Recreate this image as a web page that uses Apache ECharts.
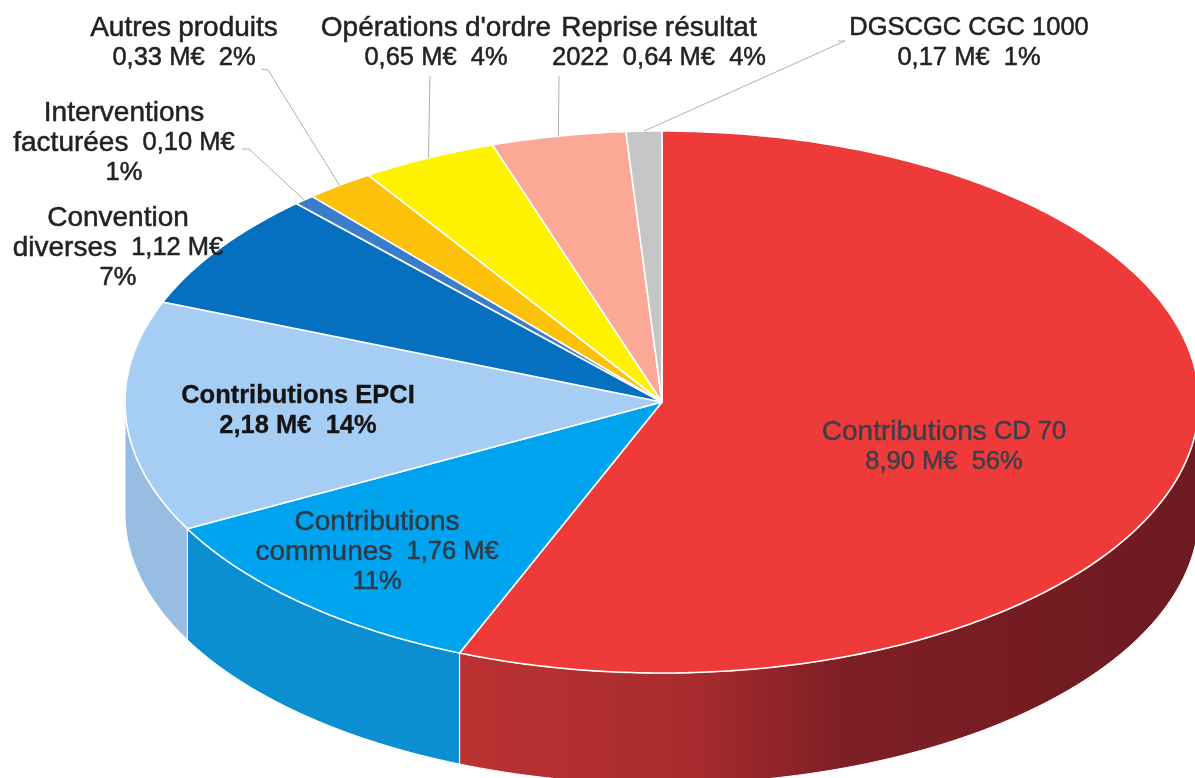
<!DOCTYPE html>
<html lang="fr">
<head>
<meta charset="utf-8">
<title>Recettes de fonctionnement</title>
<style>
  html, body { margin: 0; padding: 0; background: #fff; }
  #chart { width: 1195px; height: 778px; }
</style>
<script src="https://cdn.jsdelivr.net/npm/echarts@6/dist/echarts.min.js"></script>
</head>
<body>
<div id="chart"></div>
<script>
// Revenue shares, clockwise from twelve o'clock (millions of euros).
const categories = [
  'Contributions CD 70', 'Contributions communes', 'Contributions EPCI',
  'Convention diverses', 'Interventions facturées', 'Autres produits',
  "Opérations d'ordre", 'Reprise résultat 2022', 'DGSCGC CGC 1000'
];
const values = [8.90, 1.76, 2.18, 1.12, 0.10, 0.33, 0.65, 0.64, 0.17];
const labelTexts = [
  'Contributions CD 70\n8,90 M€  56%',
  'Contributions\ncommunes  1,76 M€\n11%',
  'Contributions EPCI\n2,18 M€  14%',
  'Convention\ndiverses  1,12 M€\n7%',
  'Interventions\nfacturées  0,10 M€\n1%',
  'Autres produits\n0,33 M€  2%',
  "Opérations d'ordre\n0,65 M€  4%",
  'Reprise résultat\n2022  0,64 M€  4%',
  'DGSCGC CGC 1000\n0,17 M€  1%'
];

// Styling and placement per slice, in the same order as the data.
const topColors = ['#ee3a38', '#00a3ee', '#a6cdf4', '#0570c0', '#3b7dcb', '#fdc10a', '#fff200', '#fba897', '#c6c6c6'];
const wallStops = [
  [[0, '#bb3232'], [0.32, '#a82b2e'], [0.52, '#7d1f25'], [1, '#6c1a20']],
  [[0, '#0b8fd0'], [1, '#0b8fd0']],
  [[0, '#98bde2'], [1, '#98bde2']]
];
const labelStyle = [
  { x: 944, y: 447, fill: '#3c3f4a' },
  { x: 377, y: 552, fill: '#2e3a46' },
  { x: 298, y: 411, fill: '#141414', bold: true },
  { x: 118, y: 248, fill: '#222222' },
  { x: 124, y: 143, fill: '#222222' },
  { x: 184, y: 43, fill: '#222222' },
  { x: 436, y: 43, fill: '#222222' },
  { x: 659, y: 43, fill: '#222222' },
  { x: 969, y: 43, fill: '#222222' }
];
// Where each leader line leaves its label; it runs on to the slice's rim midpoint.
const leaderStarts = [
  null, null, null, null,
  [[242, 149], [249, 149]],
  [[261, 69], [268, 70]],
  [[430, 76]],
  [[559, 76]],
  [[838, 41], [845, 41]]
];

// Projected disc geometry of the tilted pie.
const CX = 662, CY = 402, RX = 537, RY = 271, DEPTH = 111;
const total = values.reduce((a, b) => a + b, 0);
const FRONT_START = Math.PI / 2, FRONT_END = Math.PI * 3 / 2;

const rim = (angle, drop) => [
  CX + RX * Math.sin(angle),
  CY - RY * Math.cos(angle) + (drop || 0)
];
const arc = (from, to, drop) => {
  const steps = Math.max(2, Math.ceil((to - from) / 0.01));
  const pts = [];
  for (let i = 0; i <= steps; i++) pts.push(rim(from + (to - from) * i / steps, drop));
  return pts;
};
// Start and end angle of slice i, read from the cumulative values.
const sliceAngles = i => {
  let before = 0;
  for (let k = 0; k < i; k++) before += values[k];
  return [before / total * 2 * Math.PI, (before + values[i]) / total * 2 * Math.PI];
};

// Lowercase words are set a little larger than figures and capitals.
const toRich = text => text.split('\n').map(line =>
  line.split(/( +)/).map(word => {
    if (word === '') return '';
    const isWord = /[a-zé]{2}/.test(word);
    return '{' + (isWord ? 'w' : 'n') + '|' + word + '}';
  }).join('')
).join('\n');

const seriesData = values.map((v, i) => ({ name: categories[i], value: [v, i] }));

function renderWall(params, api) {
  const i = api.value(1);
  const [a0, a1] = sliceAngles(i);
  const from = Math.max(a0, FRONT_START), to = Math.min(a1, FRONT_END);
  if (to <= from) return { type: 'group', children: [] };
  const top = arc(from, to, 0);
  const bottom = arc(from, to, DEPTH).reverse();
  const xs = top.map(p => p[0]);
  const minX = Math.min(...xs), maxX = Math.max(...xs);
  const stops = wallStops[i] || [[0, topColors[i]], [1, topColors[i]]];
  return {
    type: 'polygon',
    shape: { points: top.concat(bottom) },
    style: {
      fill: {
        type: 'linear', global: true, x: minX, y: 0, x2: maxX, y2: 0,
        colorStops: stops.map(s => ({ offset: s[0], color: s[1] }))
      },
      stroke: '#ffffff', lineWidth: 1
    }
  };
}

function renderTop(params, api) {
  const i = api.value(1);
  const [a0, a1] = sliceAngles(i);
  return {
    type: 'polygon',
    shape: { points: [[CX, CY]].concat(arc(a0, a1, 0)) },
    style: { fill: topColors[i], stroke: '#ffffff', lineWidth: 1.6, lineJoin: 'round' }
  };
}

function renderLabel(params, api) {
  const i = api.value(1);
  const [a0, a1] = sliceAngles(i);
  const s = labelStyle[i];
  const children = [];
  if (leaderStarts[i]) {
    children.push({
      type: 'polyline',
      shape: { points: leaderStarts[i].concat([rim((a0 + a1) / 2, 0)]) },
      style: { stroke: '#b0b0b0', lineWidth: 1, fill: null }
    });
  }
  const run = size => ({
    fontFamily: '"Liberation Sans", Arial, sans-serif',
    fontSize: size,
    fontWeight: s.bold ? 'bold' : 'normal',
    lineHeight: 30,
    fill: s.fill,
    stroke: s.fill,
    lineWidth: s.bold ? 0.3 : 0.5
  });
  children.push({
    type: 'text',
    style: {
      text: toRich(labelTexts[i]), x: s.x, y: s.y,
      align: 'center', verticalAlign: 'middle',
      rich: { w: run(s.bold ? 25.5 : 28), n: run(25.5) }
    }
  });
  return { type: 'group', children };
}

const chart = echarts.init(document.getElementById('chart'), null, { renderer: 'canvas' });
chart.setOption({
  backgroundColor: '#ffffff',
  animation: false,
  series: [
    { type: 'custom', coordinateSystem: 'none', silent: true, z: 1, data: seriesData, renderItem: renderWall },
    { type: 'custom', coordinateSystem: 'none', silent: true, z: 2, data: seriesData, renderItem: renderTop },
    { type: 'custom', coordinateSystem: 'none', silent: true, z: 3, data: seriesData, renderItem: renderLabel }
  ]
});
</script>
</body>
</html>
